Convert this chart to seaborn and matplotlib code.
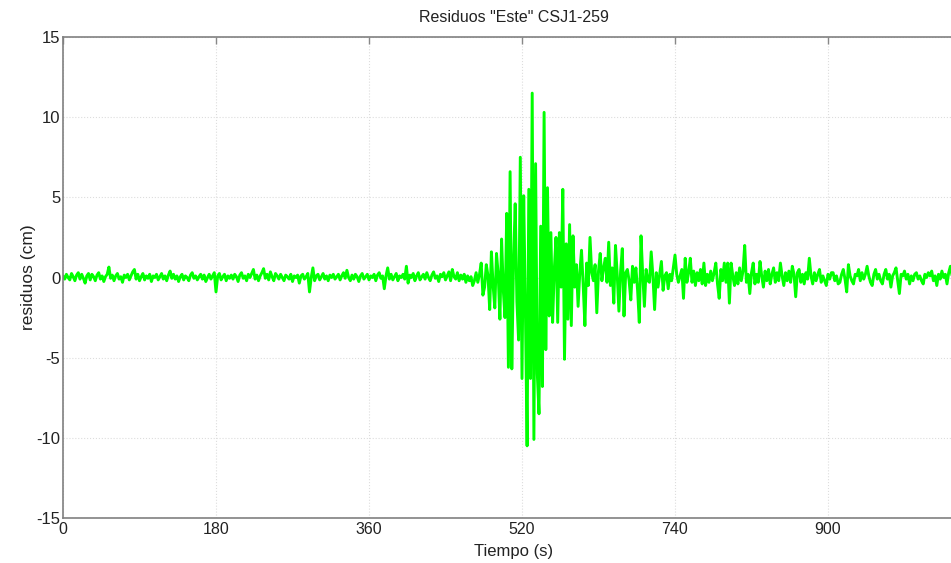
import numpy as np
import pandas as pd
import matplotlib
matplotlib.use('Agg')
import matplotlib.pyplot as plt
import seaborn as sns

# residuals (cm), one sample every 2 s
residuos_pre = [
    0.1, -0.1, 0.2, 0.0, -0.15, 0.25, 0.05, -0.2, 0.15, 0.3,
    -0.1, 0.2, -0.05, -0.35, 0.1, 0.25, -0.15, 0.2, 0.05, -0.2,
    0.15, 0.3, -0.1, 0.1, -0.25, 0.05, 0.2, 0.65, -0.05, 0.15,
    -0.2, 0.1, 0.25, -0.1, 0.05, -0.3, 0.15, 0.0, 0.2, -0.15,
    0.1, 0.35, 0.5, -0.1, 0.2, -0.2, 0.05, 0.25, -0.15, 0.1,
    -0.05, 0.2, -0.25, 0.1, 0.0, 0.2, -0.15, 0.05, 0.25, -0.1,
    0.1, -0.2, 0.15, 0.4, -0.05, 0.2, -0.1, 0.1, -0.25, 0.05,
    0.2, -0.15, 0.1, 0.0, -0.2, 0.15, 0.3, -0.05, 0.1, -0.15,
    0.05, 0.2, -0.1, 0.15, -0.25, 0.0, 0.2, -0.1, 0.1, 0.3,
    -0.9, 0.1, 0.25, -0.15, 0.05, 0.2, -0.2, 0.1, -0.05, 0.15,
    -0.1, 0.2, 0.05, -0.25, 0.15, 0.3, -0.05, 0.1, -0.2, 0.2,
    0.0, 0.25, 0.5, -0.1, 0.15, -0.2, 0.1, 0.3, 0.55, -0.05,
    0.2, -0.15, 0.35, 0.05, -0.2, 0.25, 0.1, -0.1, 0.2, 0.0,
    -0.2, 0.15, 0.05, -0.1, 0.2, -0.25, 0.1, 0.0, 0.15, -0.35,
    0.1, 0.2, -0.1, 0.05, 0.25, -0.9, 0.0, 0.6, -0.2, 0.1,
    0.2, -0.15, 0.05, 0.25, -0.1, 0.1, -0.2, 0.15, 0.0, 0.2,
    -0.1, 0.05, 0.2, -0.15, 0.1, 0.3, -0.05, 0.45, 0.0, -0.2,
    0.15, -0.1, 0.2, 0.05, -0.25, 0.1, 0.25, -0.1, 0.05, 0.2,
    -0.15, 0.1, 0.0, 0.2, -0.2, 0.15, 0.3, -0.05, 0.1, -0.7,
    0.1, 0.6, -0.1, 0.2, -0.15, 0.05, 0.25, -0.2, 0.1, 0.0,
    0.2, -0.1, 0.7, -0.35, 0.15, 0.0, 0.25, -0.2, 0.1, 0.3,
    -0.15, 0.05, 0.2, -0.1, 0.3, 0.0, -0.2, 0.15, 0.35, -0.05,
    0.1, -0.25, 0.2, 0.05, 0.3, -0.15, 0.1, 0.35, -0.2, 0.5,
    0.05, -0.1, 0.3, -0.2, 0.15,
]
residuos_evento = [
    -0.1, 0.2, -0.3, 0.1, -0.2, 0.05, -0.5, -0.2, 0.3, -0.3,
    0.2, 0.9, -1.1, -0.6, 0.8, 0.1, -2.0, 1.6, -0.5, -1.9,
    1.5, 0.2, -2.6, 2.4, -0.8, -2.5, 4.0, -5.6, 6.6, -5.7,
    0.9, 4.6, -1.5, -3.9, 7.5, -6.3, 5.1, -2.0, -10.5, 5.5,
    -6.3, 11.5, -10.1, 7.1, -6.0, -8.5, 3.2, -6.8, 10.3, -4.5,
    5.6, -2.4, 2.8, -2.8, 0.5, 2.5, -2.8, 2.8, -0.6, 5.5,
    -5.1, 2.1, -2.6, 3.3, -3.0,
]
residuos_coda = [
    2.6, -0.6, 0.8, -1.8, 0.3, 1.7, -0.5, -3.0, 0.9, -0.5,
    2.5, 0.3, -0.2, 0.8, -2.2, 0.4, 1.5, -0.2, 0.6, 1.2,
    -0.3, 2.2, -0.5, 0.6, -1.6, 2.0, 0.2, -2.1, 0.4, 1.8,
    -2.4, 0.3, 0.5, -0.2, -1.4, 0.7, -0.3, 0.6, -0.8, -2.8,
    2.6, 0.2, -1.8, 0.5, -0.2, -0.3, 1.6, 0.1, -2.0, 0.3,
    -0.6, 0.2, 1.0, -0.8, 0.1, 0.3, -0.7, 0.2, -0.2, 0.6,
    1.4, 0.2, -0.3, 0.1, 0.5, -1.3, 1.2, -0.3, 0.3, 1.2,
    -0.3, 0.4, -0.5, 0.3, -0.2, 0.5, -0.4, 0.9, -0.5, 0.2,
    -0.3, 0.4, -0.2, 0.3, 0.9, -0.4, -1.3, 0.5, -0.2, 0.9,
    -0.3, 0.9, -1.6, 0.9, 0.1, -0.5, 0.3, -0.4, 0.6, -0.2,
]
residuos_final = [
    0.4, 2.0, -0.3, 0.2, -1.0, 0.3, 0.9, -0.4, 0.2, -0.3,
    1.0, 0.1, -0.6, 0.4, -0.2, 0.5, -0.4, 0.2, 0.6, -0.3,
    0.3, -0.2, 0.9, 0.1, -0.5, 0.3, -0.2, 0.4, -0.3, 0.7,
    0.2, -1.2, 0.3, 0.5, -0.3, 0.2, -0.4, 0.3, -0.1, 1.2,
    0.1, -0.4, 0.3, -0.2, 0.2, 0.5, -0.3, 0.1, -0.2, -0.5,
    0.2, -0.1, 0.3, 0.3, -0.2, 0.1, -0.4, -0.3, 0.2, 0.5,
    -0.1, -0.9, 0.8, 0.1, -0.2, -0.4, 0.2, 0.1, 0.5, -0.2,
    0.3, -0.1, 0.2, 0.7, 0.1, -0.3, -0.5, 0.2, 0.5, -0.1,
    0.2, -0.2, -0.4, 0.2, 0.5, -0.1, 0.2, -0.6, 0.1, 0.3,
    0.6, -0.2, -1.0, 0.2, 0.1, 0.4, -0.1, 0.2, -0.4, 0.1,
    -0.2, 0.2, 0.3, -0.1, 0.1, -0.2, -0.4, 0.2, 0.0, 0.3,
    0.1, 0.4, -0.2, 0.1, -0.5, 0.2, -0.1, 0.4, 0.0, 0.2,
    -0.4, 0.3, 0.7, 0.1, -0.2, 0.4, -0.1, 0.3, -0.3, 0.2,
    0.1,
]
paso = 2  # seconds between samples

x_ticks = [0, 180, 360, 540, 720, 900]
x_labels = ['0', '180', '360', '520', '740', '900']
y_ticks = [-15, -10, -5, 0, 5, 10, 15]

residuos = residuos_pre + residuos_evento + residuos_coda + residuos_final
df = pd.DataFrame({'tiempo': np.arange(len(residuos)) * paso,
                   'residuos': residuos})

sns.set_style('white')
plt.rcParams['font.family'] = ['Liberation Sans', 'DejaVu Sans']
plt.rcParams['axes.unicode_minus'] = False
plt.rcParams['xtick.direction'] = 'in'
plt.rcParams['ytick.direction'] = 'in'

fig = plt.figure(figsize=(9.51, 5.63), dpi=100)
ax = fig.add_axes([63 / 951, 45 / 563, 901 / 951, 481 / 563])

sns.lineplot(data=df, x='tiempo', y='residuos', color='#00ff00',
             linewidth=2.1, ax=ax)

ax.set_xlim(0, 1060)
ax.set_ylim(-15, 15)
ax.set_xticks(x_ticks)
ax.set_xticklabels(x_labels)
ax.set_yticks(y_ticks)
ax.tick_params(top=True, right=True, length=5, width=1, color='#888888',
               labelsize=12, pad=2, labelcolor='#222222')
ax.tick_params(axis='x', labelsize=11.5, pad=3)

ax.grid(True, color='#dddddd', linestyle=':', linewidth=0.8)
for sp in ax.spines.values():
    sp.set_color('#808080')
    sp.set_linewidth(1.2)

ax.set_xlabel('Tiempo (s)', fontsize=12, labelpad=5, color='#222222')
ax.set_ylabel('residuos (cm)', fontsize=12.5, color='#222222')
ax.yaxis.set_label_coords(-0.03, 0.5)
ax.set_title('Residuos "Este" CSJ1-259', fontsize=11.5, pad=11, color='#222222')

fig.savefig('out.png', dpi=100)
